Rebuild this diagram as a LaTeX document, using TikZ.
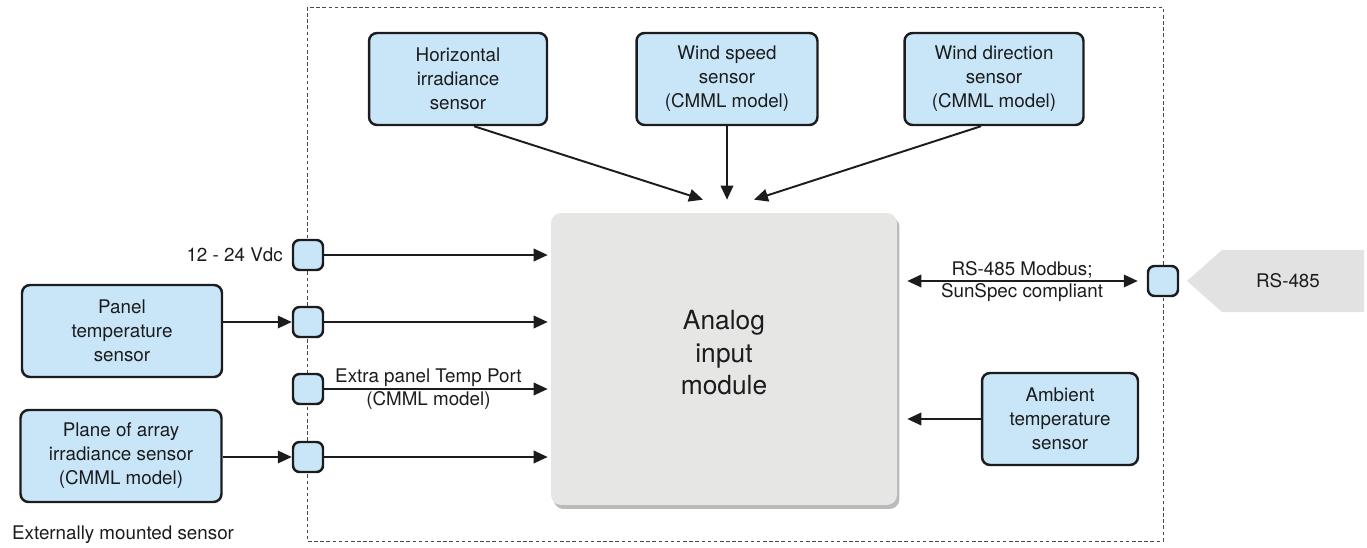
\documentclass[tikz,border=0pt]{standalone}
\usepackage{fontspec}
\setmainfont{TeX Gyre Heros}
\usetikzlibrary{arrows.meta,shadows}
\definecolor{sensorblue}{RGB}{200,230,247}
\definecolor{modgray}{RGB}{230,230,229}
\definecolor{busgray}{RGB}{226,226,226}
\definecolor{ink}{RGB}{28,28,30}
\tikzset{
  sensor/.style={draw=ink,line width=1.4pt,fill=sensorblue,rounded corners=0.16cm,align=center,
    minimum height=1.84cm,inner sep=0pt,text=ink,font=\fontsize{10.7}{13.7}\selectfont},
  port/.style={draw=ink,line width=1.4pt,fill=sensorblue,rounded corners=0.13cm,minimum size=0.6cm,inner sep=0pt},
  module/.style={fill=modgray,rounded corners=0.2cm,minimum width=6.92cm,minimum height=5.84cm,
    drop shadow={shadow xshift=0.05cm,shadow yshift=-0.08cm,fill=black!45,opacity=0.6}},
  modtext/.style={align=center,text=ink,font=\fontsize{15}{18.5}\selectfont,inner sep=0pt},
  wire/.style={line width=1.1pt,draw=ink,-{Triangle[length=0.28cm,width=0.25cm]}},
  frame/.style={dash pattern=on 2pt off 1.5pt,line width=0.5pt,draw=ink!80},
  lbl/.style={text=ink,font=\fontsize{10.7}{13.7}\selectfont,align=center,inner sep=1pt}
}
\begin{document}
\begin{tikzpicture}[x=0.02cm,y=-0.02cm]
    \useasboundingbox (0,0) rectangle (1367,548);

    % — Dashed enclosure
    \coordinate (fa) at (307,  7);
    \coordinate (fb) at (1163,541);
    \draw [frame] (fa) rectangle (fb);

    % — Analog input module
    \node [module] (mod) at (724,359) {};
    \node [modtext] (modlbl) at ([yshift=0.12cm]mod.center) {Analog\\input\\module};

    % — Sensors inside the enclosure
    \node [sensor,minimum width=3.56cm] (hor)  at (458, 79) {Horizontal\\irradiance\\sensor};
    \node [sensor,minimum width=3.62cm] (wsp)  at (727, 79) {Wind speed\\sensor\\(CMML model)};
    \node [sensor,minimum width=3.58cm] (wdir) at (994, 79) {Wind direction\\sensor\\(CMML model)};
    \node [sensor,minimum width=3.12cm] (amb)  at (1060,419) {Ambient\\temperature\\sensor};

    % — Externally mounted sensors
    \node [sensor,minimum width=4.00cm] (panel) at (122,331) {Panel\\temperature\\sensor};
    \node [sensor,minimum width=4.02cm] (plane) at (121,456) {Plane of array\\irradiance sensor\\(CMML model)};

    % — Ports on the enclosure
    \node [port] (p1) at (308, 255) {};
    \node [port] (p2) at (308, 322) {};
    \node [port] (p3) at (308, 389) {};
    \node [port] (p4) at (308, 457) {};
    \node [port] (p5) at (1163,281) {};

    % — RS-485 bus
    \fill [busgray] (1364,250) -- (1222,250) -- (1187,281) -- (1222,312) -- (1364,312) -- cycle;
    \node [lbl] (rs) at (1288,281) {RS-485};

    % — Texts
    \node [lbl,anchor=east] (vdc) at ([xshift=-0.14cm]p1.west) {12 - 24 Vdc};
    \node [lbl,anchor=west] (ext) at (10,535) {Externally mounted sensor};

    % — Top sensors into the module
    \draw [wire] ([xshift=0.32cm]hor.south)   -- ([xshift=-0.42cm,yshift=0.26cm]mod.north);
    \draw [wire] (wsp.south)                   -- ([xshift=0.06cm,yshift=0.26cm]mod.north);
    \draw [wire] ([xshift=-0.26cm]wdir.south) -- ([xshift=0.6cm,yshift=0.26cm]mod.north);

    % — Left side
    \draw [wire] (panel.east |- p2) -- (p2.west);
    \draw [wire] (plane.east |- p4) -- (p4.west);
    \draw [wire,shorten >=0.06cm] (p1.east) -- (p1.east -| mod.west);
    \draw [wire,shorten >=0.06cm] (p2.east) -- (p2.east -| mod.west);
    \draw [wire,shorten >=0.06cm] (p3.east) -- (p3.east -| mod.west)
      node [lbl,pos=0.46,above] {Extra panel Temp Port}
      node [lbl,pos=0.46,below] {(CMML model)};
    \draw [wire,shorten >=0.06cm] (p4.east) -- (p4.east -| mod.west);

    % — Right side
    \draw [wire,{Triangle[length=0.28cm,width=0.25cm]}-{Triangle[length=0.28cm,width=0.25cm]},
      shorten <=0.2cm,shorten >=0.18cm] (p5.west -| mod.east) -- (p5.west)
      node [lbl,midway,above] {RS-485 Modbus;}
      node [lbl,midway,below] {SunSpec compliant};
    \draw [wire,shorten >=0.2cm] (amb.west) -- (amb.west -| mod.east);
\end{tikzpicture}
\end{document}
